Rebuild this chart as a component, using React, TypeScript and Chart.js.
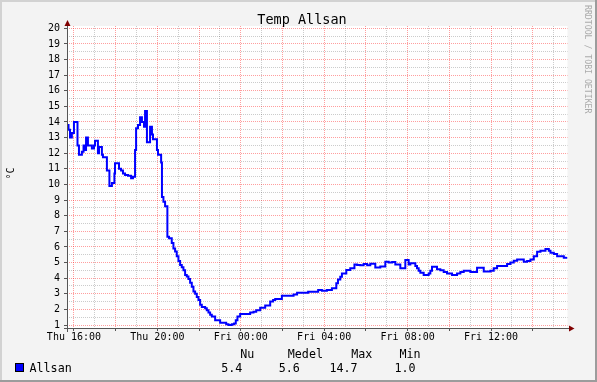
import { useEffect, useRef } from 'react';
import { Chart, registerables } from 'chart.js';

Chart.register(...registerables);

// ---- data (hours since Thu 00:00, °C) ----
const TITLE = 'Temp Allsan';
const Y_UNIT = '°C';
const SIDE_TEXT = 'RRDTOOL / TOBI OETIKER';
const SERIES_NAME = 'Allsan';

const HOURS = [
  15.66, 15.74, 15.81, 15.9, 16.0, 16.17, 16.24, 16.38, 16.46, 16.53, 16.58, 16.67, 16.86, 16.96,
  17.01, 17.15, 17.2, 17.34, 17.39, 17.58, 17.7, 17.82, 17.94, 17.97, 18.16, 18.26, 18.35, 18.45,
  18.59, 18.74, 18.83, 18.93, 18.98, 19.07, 19.17, 19.26, 19.36, 19.41, 19.5, 19.65, 19.74, 19.79,
  19.98, 20.03, 20.18, 20.22, 20.29, 20.37, 20.48, 20.56, 20.69, 20.77, 20.85, 20.93, 21.01, 21.09,
  21.17, 21.25, 21.33, 21.41, 21.49, 21.57, 21.65, 21.73, 21.81, 21.89, 21.97, 22.05, 22.13, 22.29,
  22.37, 22.45, 22.53, 22.61, 22.77, 23.01, 23.3, 23.41, 23.57, 23.68, 23.76, 23.84, 23.97, 24.45,
  24.61, 24.74, 24.93, 25.17, 25.41, 25.55, 25.65, 25.97, 26.53, 26.7, 27.23, 27.71, 27.89, 28.13,
  28.37, 28.58, 28.66, 28.77, 28.85, 29.06, 29.25, 29.45, 29.58, 29.73, 29.89, 30.06, 30.21, 30.45,
  30.69, 30.93, 31.09, 31.26, 31.41, 31.65, 31.89, 32.05, 32.13, 32.37, 32.45, 32.53, 32.61, 32.77,
  33.01, 33.09, 33.17, 33.41, 33.57, 33.73, 33.89, 34.13, 34.37, 34.53, 34.69, 35.01, 35.33, 35.65,
  35.97, 36.13, 36.29, 36.77, 36.93, 37.09, 37.25, 37.57, 37.73, 37.89, 38.05, 38.21, 38.37, 38.61,
  38.77, 38.85, 39.01, 39.17, 39.49, 39.62,
];

const TEMPS = [
  13.8, 13.5, 13.0, 13.3, 14.0, 12.5, 11.9, 12.1, 12.5, 12.2, 13.0, 12.5, 12.3, 12.5,
  12.8, 12.0, 12.4, 11.9, 11.75, 10.9, 9.9, 10.1, 10.7, 11.35, 11.0, 10.9, 10.7, 10.6,
  10.55, 10.4, 10.5, 12.2, 13.6, 13.8, 14.3, 14.0, 13.7, 14.7, 12.7, 13.7, 13.2, 12.9,
  12.2, 11.9, 11.4, 9.2, 8.9, 8.6, 6.65, 6.55, 6.25, 5.9, 5.7, 5.4, 5.1, 4.85,
  4.7, 4.5, 4.2, 4.1, 3.95, 3.7, 3.45, 3.15, 3.0, 2.8, 2.6, 2.3, 2.15, 2.07,
  1.95, 1.8, 1.65, 1.55, 1.3, 1.15, 1.05, 1.0, 1.05, 1.1, 1.3, 1.55, 1.7, 1.8,
  1.85, 1.95, 2.1, 2.25, 2.5, 2.6, 2.66, 2.88, 2.96, 3.07, 3.13, 3.24, 3.2, 3.24,
  3.35, 3.67, 3.92, 4.09, 4.3, 4.52, 4.63, 4.88, 4.85, 4.82, 4.9, 4.83, 4.92, 4.69,
  4.75, 5.05, 5.0, 5.03, 4.88, 4.63, 5.16, 4.88, 4.95, 4.78, 4.63, 4.48, 4.35, 4.2,
  4.3, 4.48, 4.73, 4.57, 4.5, 4.4, 4.3, 4.2, 4.3, 4.4, 4.47, 4.4, 4.67, 4.43,
  4.48, 4.63, 4.78, 4.9, 5.01, 5.11, 5.2, 5.05, 5.1, 5.2, 5.41, 5.69, 5.75, 5.86,
  5.75, 5.63, 5.54, 5.41, 5.3, 5.35,
];

const Y_MAJOR = [1, 2, 3, 4, 5, 6, 7, 8, 9, 10, 11, 12, 13, 14, 15, 16, 17, 18, 19, 20];
const X_HOURS = [16, 17, 18, 19, 20, 21, 22, 23, 24, 25, 26, 27, 28, 29, 30, 31, 32, 33, 34, 35, 36, 37, 38, 39];
const X_LABEL_HOURS = [16, 20, 24, 28, 32, 36];
const X_LABELS = ['Thu 16:00', 'Thu 20:00', 'Fri 00:00', 'Fri 04:00', 'Fri 08:00', 'Fri 12:00'];
const STAT_HEADERS = ['Nu', 'Medel', 'Max', 'Min'];
const STAT_VALUES = ['5.4', '5.6', '14.7', '1.0'];

const X_MIN = 15 + 40 / 60;
const X_MAX = X_MIN + 24;
const Y_MIN = 0.808;
const Y_MAX = 20.147;

const MONO = "'DejaVu Sans Mono', monospace";
const MAJOR_GRID = 'rgba(255,0,0,0.38)';
const MINOR_GRID = 'rgba(0,0,0,0.2)';
const AXIS_COLOR = '#555555';
const ARROW_COLOR = '#800000';
const LINE_COLOR = '#0000ff';

const isMajor = (c: any) => c && typeof c.index === 'number' && c.index % 2 === 0;

const rrdPlugin = {
  id: 'rrdDecor',
  beforeDraw(chart: any) {
    const { ctx, width, height, chartArea } = chart;
    ctx.save();
    ctx.fillStyle = '#f3f3f3';
    ctx.fillRect(0, 0, width, height);
    ctx.fillStyle = '#d2d2d2';
    ctx.fillRect(0, 0, width, 2);
    ctx.fillRect(0, 0, 2, height);
    ctx.fillStyle = '#9c9c9c';
    ctx.fillRect(width - 2, 0, 2, height);
    ctx.fillRect(0, height - 2, width, 2);
    ctx.fillStyle = '#ffffff';
    ctx.fillRect(chartArea.left, chartArea.top, chartArea.right - chartArea.left, chartArea.bottom - chartArea.top);
    ctx.restore();
  },
  afterDraw(chart: any) {
    const { ctx, chartArea } = chart;
    const L = chartArea.left;
    const B = chartArea.bottom;
    const R = chartArea.right;
    const T = chartArea.top;
    ctx.save();
    ctx.strokeStyle = AXIS_COLOR;
    ctx.lineWidth = 1;
    ctx.setLineDash([]);
    ctx.beginPath();
    ctx.moveTo(L - 3, B + 0.5);
    ctx.lineTo(R + 2, B + 0.5);
    ctx.moveTo(L + 0.5, B + 4);
    ctx.lineTo(L + 0.5, T - 2);
    ctx.stroke();
    ctx.fillStyle = ARROW_COLOR;
    ctx.beginPath();
    ctx.moveTo(L + 0.5, T - 6);
    ctx.lineTo(L + 3.5, T);
    ctx.lineTo(L - 2.5, T);
    ctx.closePath();
    ctx.fill();
    ctx.beginPath();
    ctx.moveTo(R + 7, B + 0.5);
    ctx.lineTo(R + 1.5, B + 3.5);
    ctx.lineTo(R + 1.5, B - 2.5);
    ctx.closePath();
    ctx.fill();

    ctx.fillStyle = '#000000';
    ctx.font = `13.5px ${MONO}`;
    ctx.textAlign = 'center';
    ctx.textBaseline = 'alphabetic';
    ctx.fillText(TITLE, 302, 24);

    ctx.save();
    ctx.translate(13.5, 173.5);
    ctx.rotate(-Math.PI / 2);
    ctx.font = `10px ${MONO}`;
    ctx.textAlign = 'center';
    ctx.fillText(Y_UNIT, 0, 0);
    ctx.restore();

    ctx.save();
    ctx.translate(585, 5);
    ctx.rotate(Math.PI / 2);
    ctx.font = `8.2px ${MONO}`;
    ctx.fillStyle = '#aaaaaa';
    ctx.textAlign = 'left';
    ctx.fillText(SIDE_TEXT, 0, 0);
    ctx.restore();

    ctx.fillStyle = LINE_COLOR;
    ctx.fillRect(15, 363, 9, 9);
    ctx.strokeStyle = '#000000';
    ctx.lineWidth = 1;
    ctx.strokeRect(15.5, 363.5, 8, 8);
    ctx.fillStyle = '#000000';
    ctx.font = `11.7px ${MONO}`;
    ctx.textAlign = 'left';
    ctx.fillText(SERIES_NAME, 29.5, 371.7);
    const headerX = [240.2, 287.8, 351.2, 399.5];
    const valueX = [221.2, 278.8, 329.5, 394.5];
    STAT_HEADERS.forEach((h, i) => ctx.fillText(h, headerX[i], 358.3));
    STAT_VALUES.forEach((v, i) => ctx.fillText(v, valueX[i], 371.7));
    ctx.restore();
  },
};

export default function App() {
  const ref = useRef<HTMLCanvasElement>(null);
  useEffect(() => {
    document.body.style.margin = '0';
    const canvas = ref.current!;
    const chart = new Chart(canvas, {
      type: 'line',
      data: {
        datasets: [
          {
            label: SERIES_NAME,
            data: HOURS.map((h, i) => ({ x: h, y: TEMPS[i] })),
            borderColor: LINE_COLOR,
            borderWidth: 2,
            pointRadius: 0,
            stepped: true,
            fill: false,
          },
        ],
      },
      options: {
        animation: false,
        responsive: false,
        devicePixelRatio: 1,
        layout: { padding: { left: 0, top: 26, right: 597 - 567.5, bottom: 0 } },
        plugins: {
          legend: { display: false },
          title: { display: false },
          tooltip: { enabled: false },
        },
        events: [],
        scales: {
          x: {
            type: 'linear',
            min: X_MIN,
            max: X_MAX,
            afterBuildTicks: (scale: any) => {
              scale.ticks = X_HOURS.map((v) => ({ value: v }));
            },
            afterFit: (scale: any) => {
              scale.height = 382 - 328;
            },
            ticks: {
              autoSkip: false,
              maxRotation: 0,
              minRotation: 0,
              padding: 0,
              color: '#000000',
              font: { family: MONO, size: 10 },
              callback: (v: any) => {
                const idx = X_LABEL_HOURS.indexOf(Number(v));
                return idx >= 0 ? X_LABELS[idx] : '';
              },
            },
            grid: {
              color: (c: any) => (isMajor(c) ? MAJOR_GRID : MINOR_GRID),
              lineWidth: 1,
              drawTicks: true,
              tickLength: 3,
              tickColor: (c: any) => (isMajor(c) ? AXIS_COLOR : 'rgba(0,0,0,0)'),
            },
            border: { display: false, dash: [1, 1] },
          },
          y: {
            type: 'linear',
            min: Y_MIN,
            max: Y_MAX,
            afterBuildTicks: (scale: any) => {
              const t: { value: number }[] = [];
              Y_MAJOR.forEach((v, i) => {
                t.push({ value: v });
                if (i < Y_MAJOR.length - 1) t.push({ value: v + 0.5 });
              });
              scale.ticks = t;
            },
            afterFit: (scale: any) => {
              scale.width = 67;
            },
            ticks: {
              autoSkip: false,
              padding: 4,
              color: '#000000',
              font: { family: MONO, size: 10 },
              callback: (v: any) => (Number.isInteger(Number(v)) ? String(v) : ''),
            },
            grid: {
              color: (c: any) => (isMajor(c) ? MAJOR_GRID : MINOR_GRID),
              lineWidth: 1,
              drawTicks: true,
              tickLength: 3,
              tickColor: (c: any) => (isMajor(c) ? AXIS_COLOR : 'rgba(0,0,0,0)'),
            },
            border: { display: false, dash: [1, 1] },
          },
        },
      },
      plugins: [rrdPlugin],
    } as any);
    return () => chart.destroy();
  }, []);
  return (
    <div style={{ width: 597, height: 382 }}>
      <canvas ref={ref} width={597} height={382} style={{ display: 'block', width: 597, height: 382 }} />
    </div>
  );
}
